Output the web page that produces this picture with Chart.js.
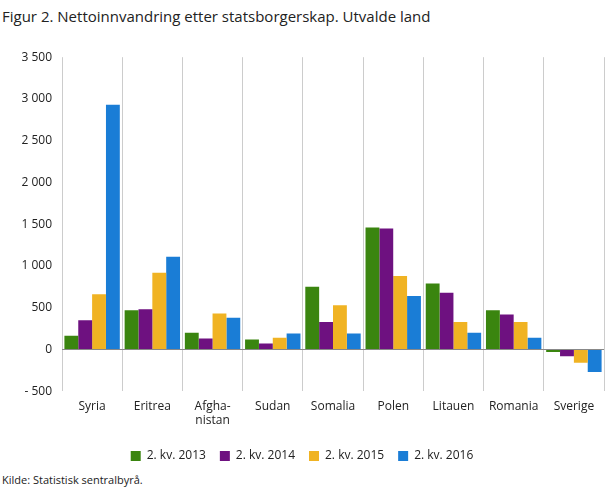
<!DOCTYPE html>
<html>
<head>
<meta charset="utf-8">
<script src="https://cdn.jsdelivr.net/npm/chart.js@4"></script>
<style>
	body { margin: 0; background: #fff; font-family: 'Open Sans', sans-serif; }
	#wrap { position: relative; width: 610px; height: 489px; }
	#title { position: absolute; left: 2px; top: 6px; font-size: 15px; color: #222; }
	#source { position: absolute; left: 2px; top: 472px; font-size: 11px; color: #222; }
	#box { position: absolute; left: 0; top: 40px; width: 610px; height: 432px; }
</style>
</head>
<body>
<div id="wrap">
	<div id="title">Figur 2. Nettoinnvandring etter statsborgerskap. Utvalde land</div>
	<div id="box"><canvas id="myChart"></canvas></div>
	<div id="source">Kilde: Statistisk sentralbyrå.</div>
</div>
<script>
// Data
var countries = ['Syria', 'Eritrea', ['Afgha-', 'nistan'], 'Sudan', 'Somalia', 'Polen', 'Litauen', 'Romania', 'Sverige'];
var q2013 = [165, 470, 200, 120, 750, 1460, 790, 470, -30];
var q2014 = [350, 480, 130, 70, 330, 1450, 680, 420, -80];
var q2015 = [660, 920, 430, 140, 530, 880, 330, 330, -160];
var q2016 = [2930, 1110, 380, 190, 190, 640, 200, 140, -270];

function fmt(v) {
	var s = Math.abs(v).toString().replace(/\B(?=(\d{3})+(?!\d))/g, ' ');
	return v < 0 ? '- ' + s : s;
}

Chart.defaults.font.family = "'Open Sans', sans-serif";
Chart.defaults.color = '#222';

var ctx = document.getElementById('myChart');
var myChart = new Chart(ctx, {
	type: 'bar',
	data: {
		labels: countries,
		datasets: [
			{ label: '2. kv. 2013', data: q2013, backgroundColor: '#3a850f' },
			{ label: '2. kv. 2014', data: q2014, backgroundColor: '#6e1180' },
			{ label: '2. kv. 2015', data: q2015, backgroundColor: '#f0b323' },
			{ label: '2. kv. 2016', data: q2016, backgroundColor: '#1a7dd6' }
		]
	},
	options: {
		responsive: true,
		maintainAspectRatio: false,
		animation: false,
		layout: { padding: { left: 0, right: 6, top: 4, bottom: 0 } },
		datasets: { bar: { categoryPercentage: 0.92, barPercentage: 1 } },
		plugins: {
			tooltip: { enabled: false },
			legend: {
				position: 'bottom',
				labels: { boxWidth: 10, boxHeight: 10, padding: 14, font: { size: 12 } }
			}
		},
		scales: {
			x: {
				grid: { offset: true, color: '#ccc', drawTicks: false },
				border: { display: false },
				ticks: { font: { size: 12 }, padding: 8, maxRotation: 0 }
			},
			y: {
				min: -500, max: 3500,
				afterFit: function (s) { s.width = 62; },
				ticks: { stepSize: 500, callback: fmt, font: { size: 12 }, padding: 10 },
				grid: {
					drawTicks: false,
					color: function (c) { return c.tick && c.tick.value === 0 ? '#888' : 'rgba(0,0,0,0)'; }
				},
				border: { display: false }
			}
		}
	}
});
</script>
</body>
</html>
